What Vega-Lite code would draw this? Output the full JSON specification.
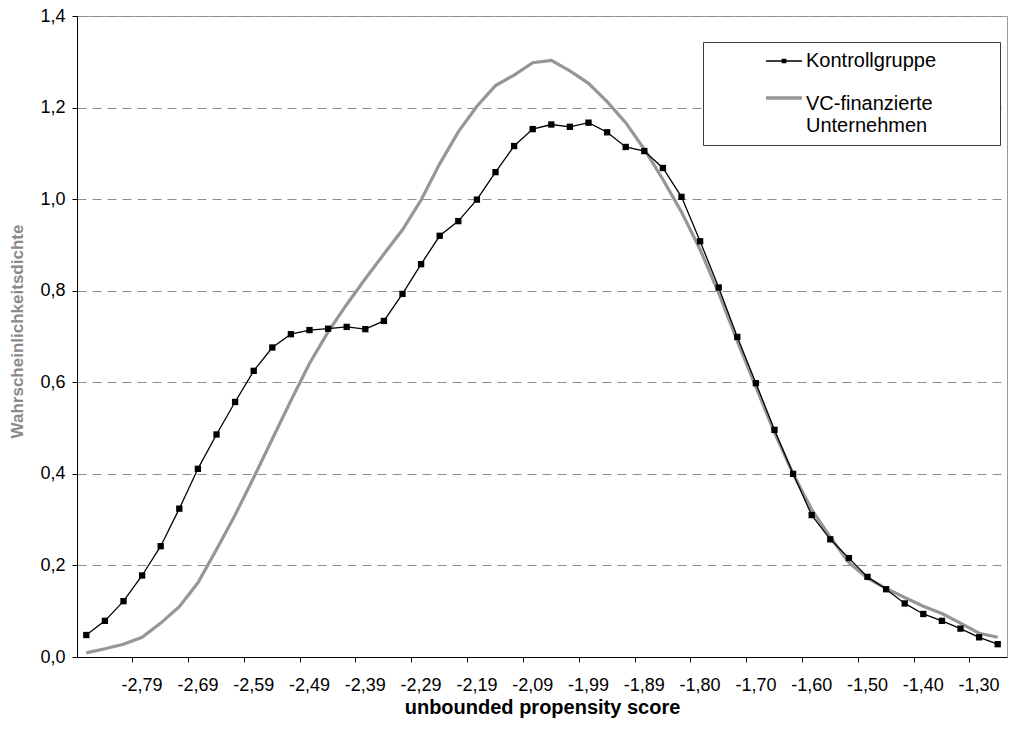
{
  "$schema": "https://vega.github.io/schema/vega-lite/v6.json",
  "description": "Kernel density of the unbounded propensity score, control group vs. VC-backed firms",
  "width": 930,
  "height": 641,
  "autosize": "none",
  "padding": {"left": 77, "top": 16, "right": 3, "bottom": 80},
  "data": {
    "values": [
      {"x": "-2,89", "Kontrollgruppe": 0.048, "VC-finanzierte Unternehmen": 0.009},
      {"x": "-2,86", "Kontrollgruppe": 0.079, "VC-finanzierte Unternehmen": 0.018},
      {"x": "-2,82", "Kontrollgruppe": 0.122, "VC-finanzierte Unternehmen": 0.028},
      {"x": "-2,79", "Kontrollgruppe": 0.178, "VC-finanzierte Unternehmen": 0.043},
      {"x": "-2,76", "Kontrollgruppe": 0.242, "VC-finanzierte Unternehmen": 0.074},
      {"x": "-2,72", "Kontrollgruppe": 0.324, "VC-finanzierte Unternehmen": 0.11},
      {"x": "-2,69", "Kontrollgruppe": 0.411, "VC-finanzierte Unternehmen": 0.162},
      {"x": "-2,66", "Kontrollgruppe": 0.486, "VC-finanzierte Unternehmen": 0.235},
      {"x": "-2,62", "Kontrollgruppe": 0.557, "VC-finanzierte Unternehmen": 0.31},
      {"x": "-2,59", "Kontrollgruppe": 0.625, "VC-finanzierte Unternehmen": 0.392},
      {"x": "-2,56", "Kontrollgruppe": 0.676, "VC-finanzierte Unternehmen": 0.476},
      {"x": "-2,52", "Kontrollgruppe": 0.705, "VC-finanzierte Unternehmen": 0.56},
      {"x": "-2,49", "Kontrollgruppe": 0.714, "VC-finanzierte Unternehmen": 0.641},
      {"x": "-2,46", "Kontrollgruppe": 0.717, "VC-finanzierte Unternehmen": 0.71},
      {"x": "-2,42", "Kontrollgruppe": 0.721, "VC-finanzierte Unternehmen": 0.77},
      {"x": "-2,39", "Kontrollgruppe": 0.716, "VC-finanzierte Unternehmen": 0.826},
      {"x": "-2,36", "Kontrollgruppe": 0.734, "VC-finanzierte Unternehmen": 0.88},
      {"x": "-2,32", "Kontrollgruppe": 0.793, "VC-finanzierte Unternehmen": 0.933},
      {"x": "-2,29", "Kontrollgruppe": 0.858, "VC-finanzierte Unternehmen": 0.998},
      {"x": "-2,26", "Kontrollgruppe": 0.92, "VC-finanzierte Unternehmen": 1.077},
      {"x": "-2,22", "Kontrollgruppe": 0.952, "VC-finanzierte Unternehmen": 1.147},
      {"x": "-2,19", "Kontrollgruppe": 0.999, "VC-finanzierte Unternehmen": 1.203},
      {"x": "-2,16", "Kontrollgruppe": 1.059, "VC-finanzierte Unternehmen": 1.248},
      {"x": "-2,12", "Kontrollgruppe": 1.116, "VC-finanzierte Unternehmen": 1.271},
      {"x": "-2,09", "Kontrollgruppe": 1.153, "VC-finanzierte Unternehmen": 1.298},
      {"x": "-2,06", "Kontrollgruppe": 1.163, "VC-finanzierte Unternehmen": 1.303},
      {"x": "-2,02", "Kontrollgruppe": 1.158, "VC-finanzierte Unternehmen": 1.28},
      {"x": "-1,99", "Kontrollgruppe": 1.167, "VC-finanzierte Unternehmen": 1.253},
      {"x": "-1,96", "Kontrollgruppe": 1.146, "VC-finanzierte Unternehmen": 1.213},
      {"x": "-1,92", "Kontrollgruppe": 1.114, "VC-finanzierte Unternehmen": 1.167},
      {"x": "-1,89", "Kontrollgruppe": 1.105, "VC-finanzierte Unternehmen": 1.109},
      {"x": "-1,86", "Kontrollgruppe": 1.068, "VC-finanzierte Unternehmen": 1.043},
      {"x": "-1,83", "Kontrollgruppe": 1.005, "VC-finanzierte Unternehmen": 0.972},
      {"x": "-1,80", "Kontrollgruppe": 0.908, "VC-finanzierte Unternehmen": 0.89},
      {"x": "-1,76", "Kontrollgruppe": 0.807, "VC-finanzierte Unternehmen": 0.795},
      {"x": "-1,73", "Kontrollgruppe": 0.699, "VC-finanzierte Unternehmen": 0.69},
      {"x": "-1,70", "Kontrollgruppe": 0.598, "VC-finanzierte Unternehmen": 0.59},
      {"x": "-1,66", "Kontrollgruppe": 0.496, "VC-finanzierte Unternehmen": 0.49},
      {"x": "-1,63", "Kontrollgruppe": 0.4, "VC-finanzierte Unternehmen": 0.4},
      {"x": "-1,60", "Kontrollgruppe": 0.31, "VC-finanzierte Unternehmen": 0.322},
      {"x": "-1,56", "Kontrollgruppe": 0.257, "VC-finanzierte Unternehmen": 0.262},
      {"x": "-1,53", "Kontrollgruppe": 0.216, "VC-finanzierte Unternehmen": 0.206},
      {"x": "-1,50", "Kontrollgruppe": 0.175, "VC-finanzierte Unternehmen": 0.172},
      {"x": "-1,46", "Kontrollgruppe": 0.148, "VC-finanzierte Unternehmen": 0.15},
      {"x": "-1,43", "Kontrollgruppe": 0.117, "VC-finanzierte Unternehmen": 0.13},
      {"x": "-1,40", "Kontrollgruppe": 0.094, "VC-finanzierte Unternehmen": 0.111},
      {"x": "-1,36", "Kontrollgruppe": 0.079, "VC-finanzierte Unternehmen": 0.095},
      {"x": "-1,33", "Kontrollgruppe": 0.062, "VC-finanzierte Unternehmen": 0.074},
      {"x": "-1,30", "Kontrollgruppe": 0.043, "VC-finanzierte Unternehmen": 0.052},
      {"x": "-1,27", "Kontrollgruppe": 0.028, "VC-finanzierte Unternehmen": 0.043}
    ]
  },
  "transform": [
    {"fold": ["Kontrollgruppe", "VC-finanzierte Unternehmen"], "as": ["series", "density"]}
  ],
  "encoding": {
    "x": {
      "field": "x",
      "type": "ordinal",
      "sort": null,
      "scale": {"type": "band", "paddingInner": 0, "paddingOuter": 0},
      "axis": {
        "values": ["-2,89", "-2,79", "-2,69", "-2,59", "-2,49", "-2,39", "-2,29", "-2,19", "-2,09", "-1,99", "-1,89", "-1,80", "-1,70", "-1,60", "-1,50", "-1,40", "-1,30"],
        "bandPosition": 0,
        "ticks": true,
        "tickSize": 5,
        "tickWidth": 1,
        "tickColor": "#000000",
        "labelAngle": 0,
        "labelPadding": 14,
        "labelOverlap": false,
        "labelBound": false,
        "labelFlush": 12,
        "labelFlushOffset": 20,
        "title": "unbounded propensity score",
        "titleFontSize": 20,
        "titleFontWeight": "bold",
        "titleY": 50,
        "titleBaseline": "middle"
      }
    },
    "y": {
      "field": "density",
      "type": "quantitative",
      "scale": {"domain": [0, 1.4], "nice": false},
      "axis": {
        "values": [0, 0.2, 0.4, 0.6, 0.8, 1.0, 1.2, 1.4],
        "labelExpr": "replace(format(datum.value, '.1f'), '.', ',')",
        "ticks": true,
        "tickSize": 5,
        "tickWidth": 1,
        "tickColor": "#000000",
        "labelPadding": 7,
        "grid": true,
        "gridColor": "#8c8c8c",
        "gridDash": [9, 6],
        "title": "Wahrscheinlichkeitsdichte",
        "titleFontSize": 17,
        "titleFontWeight": "bold",
        "titleColor": "#8a8a8a",
        "titleX": -60,
        "titleY": 315,
        "titleAlign": "center",
        "titleBaseline": "middle",
        "titleAngle": -90
      }
    },
    "color": {
      "field": "series",
      "type": "nominal",
      "scale": {"domain": ["Kontrollgruppe", "VC-finanzierte Unternehmen"], "range": ["#000000", "#969696"]},
      "legend": {
        "title": null,
        "orient": "none",
        "legendX": 626,
        "legendY": 26,
        "padding": 9,
        "fillColor": "#ffffff",
        "strokeColor": "#3a3a3a",
        "symbolType": "M-1,0H1",
        "symbolSize": 1296,
        "symbolOffset": 62,
        "labelOffset": 12,
        "labelFontSize": 20,
        "labelColor": "#000000",
        "labelLimit": 400,
        "rowPadding": 17,
        "labelExpr": "datum.label == 'Kontrollgruppe' ? 'Kontrollgruppe' : ['VC-finanzierte', 'Unternehmen']",
        "encode": {
          "symbols": {
            "update": {
              "shape": {"signal": "datum.value == 'Kontrollgruppe' ? 'M-1,0H1M-0.09,-0.09H0.09V0.09H-0.09ZM11.1,0' : 'M-1,0H1M11.1,0'"},
              "fill": {"signal": "datum.value == 'Kontrollgruppe' ? '#000000' : 'transparent'"},
              "stroke": {"signal": "datum.value == 'Kontrollgruppe' ? '#000000' : '#969696'"},
              "strokeWidth": {"signal": "datum.value == 'Kontrollgruppe' ? 1.5 : 3.5"},
              "opacity": {"value": 1}
            }
          },
          "labels": {
            "update": {
              "dy": {"signal": "datum.value == 'Kontrollgruppe' ? 0 : 6"},
              "lineHeight": {"value": 22}
            }
          }
        }
      }
    }
  },
  "layer": [
    {
      "transform": [{"filter": "datum.series == 'VC-finanzierte Unternehmen'"}],
      "mark": {"type": "line", "strokeWidth": 3.2}
    },
    {
      "transform": [{"filter": "datum.series == 'Kontrollgruppe'"}],
      "mark": {"type": "line", "strokeWidth": 1.3}
    },
    {
      "transform": [{"filter": "datum.series == 'Kontrollgruppe'"}],
      "mark": {"type": "point", "shape": "square", "filled": true, "size": 40, "color": "#000000", "opacity": 1},
      "encoding": {"color": {"value": "#000000"}}
    }
  ],
  "config": {
    "font": "Liberation Sans",
    "view": {"stroke": "#9a9a9a", "strokeWidth": 1},
    "axis": {
      "labelFont": "Liberation Sans",
      "labelFontSize": 18,
      "labelColor": "#000000",
      "titleFont": "Liberation Sans",
      "titleColor": "#000000",
      "domainColor": "#000000",
      "domainWidth": 1,
      "grid": false
    },
    "legend": {"labelFont": "Liberation Sans"}
  }
}
